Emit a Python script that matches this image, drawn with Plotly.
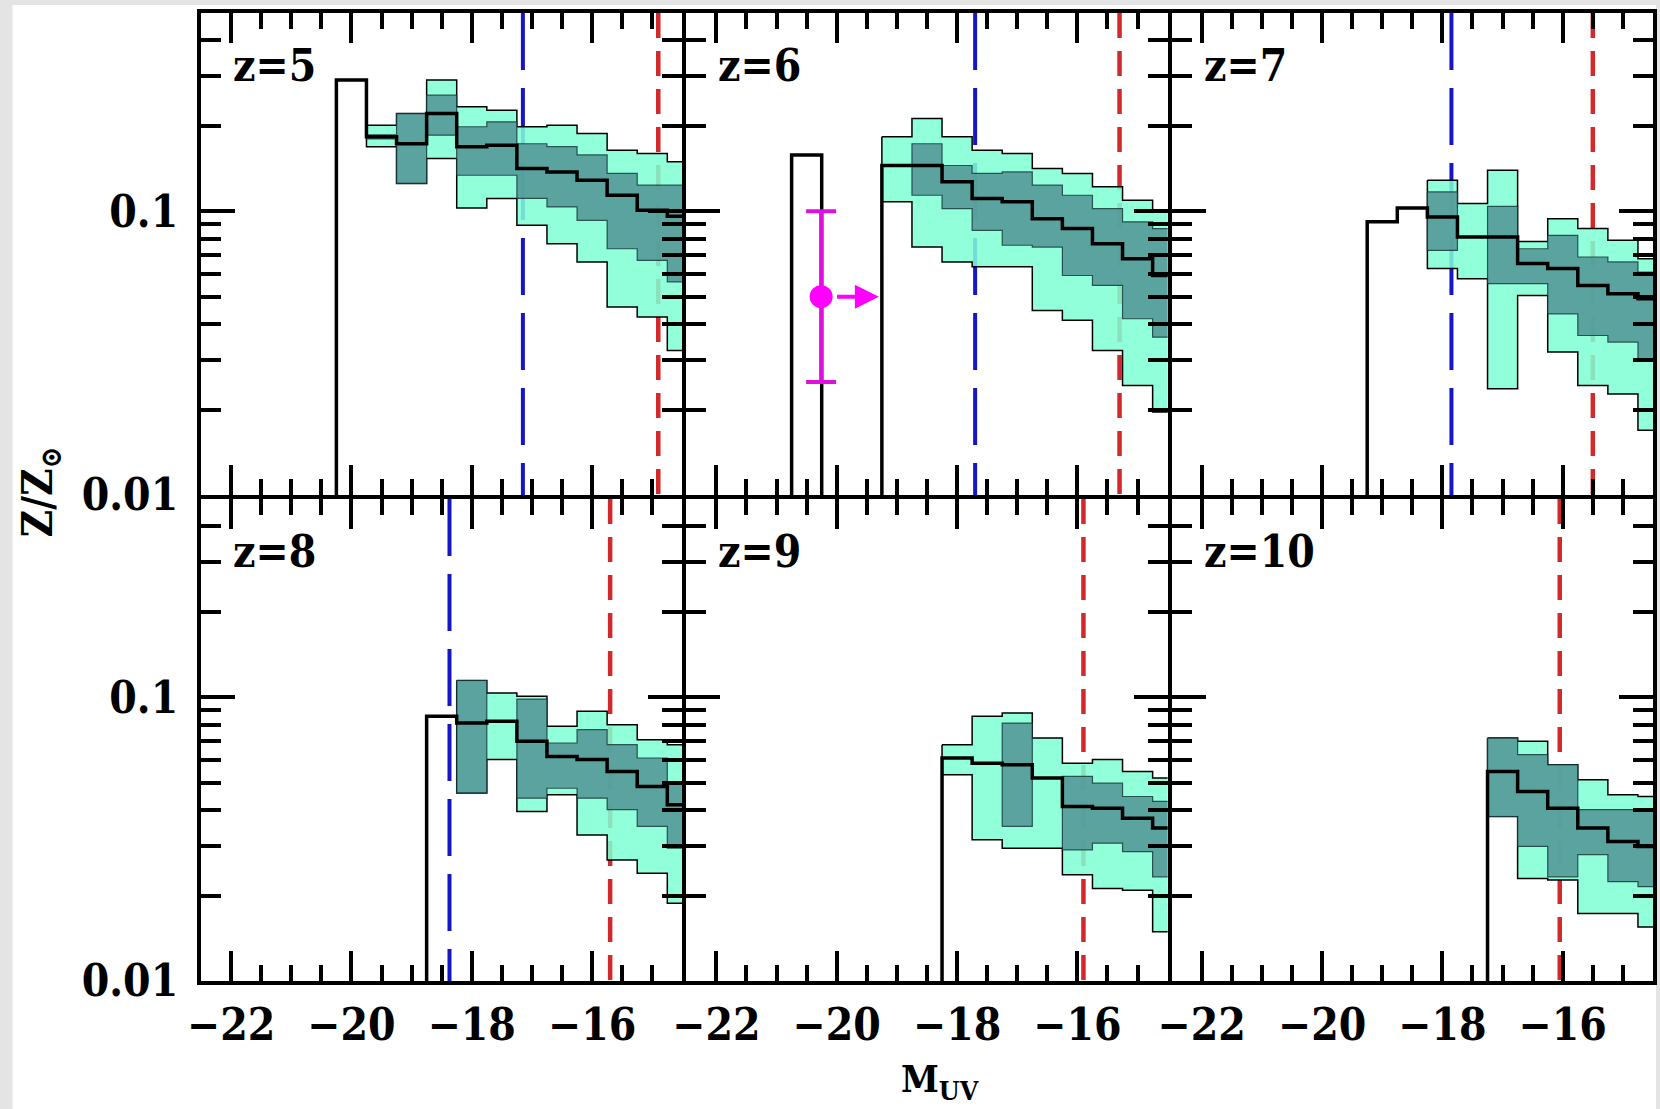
import math
import plotly.graph_objects as go

# ---------------------------------------------------------------------------
# Metallicity vs. UV magnitude, six redshift panels.
# Bins are 0.5 mag wide; values are Z/Zsun.
# ---------------------------------------------------------------------------
BIN_W = 0.5
Y_MIN, Y_MAX = 0.01, 0.5
Y_FLOOR = Y_MIN / 2          # empty bins drop below the visible range
X_RANGE = [-22.5, -14.5]

redshift_labels = ["z=5", "z=6", "z=7", "z=8", "z=9", "z=10"]

# median relation (None = empty bin)
z5_line_m = [-20.0, -19.5, -19.0, -18.5, -18.0, -17.5, -17.0, -16.5, -16.0, -15.5, -15.0, -14.5]
z5_median = [0.29, 0.183, 0.173, 0.221, 0.169, 0.171, 0.1416, 0.1377, 0.1287, 0.1139, 0.1008, 0.096]
z6_line_m = [-20.5, -20.0, -19.5, -19.0, -18.5, -18.0, -17.5, -17.0, -16.5, -16.0, -15.5, -15.0, -14.5]
z6_median = [0.158, None, None, 0.145, 0.145, 0.127, 0.111, 0.108, 0.0942, 0.0869, 0.0769, 0.068, 0.0594]
z7_line_m = [-19.0, -18.5, -18.0, -17.5, -17.0, -16.5, -16.0, -15.5, -15.0, -14.5]
z7_median = [0.0918, 0.1028, 0.0955, 0.0812, 0.0812, 0.0654, 0.0628, 0.0548, 0.0512, 0.0492]
z8_line_m = [-18.5, -18.0, -17.5, -17.0, -16.5, -16.0, -15.5, -15.0, -14.5]
z8_median = [0.0857, 0.0811, 0.0823, 0.07, 0.0619, 0.0603, 0.0548, 0.0485, 0.0418]
z9_line_m = [-18.0, -17.5, -17.0, -16.5, -16.0, -15.5, -15.0, -14.5]
z9_median = [0.0611, 0.0586, 0.0579, 0.0519, 0.0412, 0.0406, 0.0375, 0.0346]
z10_line_m = [-17.0, -16.5, -16.0, -15.5, -15.0, -14.5]
z10_median = [0.0548, 0.0466, 0.0406, 0.0346, 0.031, 0.0298]

# scatter bands: outer (p10-p90) and inner (p25-p75)
z5_band_m = [-19.5, -19.0, -18.5, -18.0, -17.5, -17.0, -16.5, -16.0, -15.5, -15.0, -14.5]
z5_p90 = [0.201, 0.221, 0.29, 0.2336, 0.2273, 0.1986, 0.201, 0.188, 0.164, 0.16, 0.1494]
z5_p75 = [0.186, 0.221, 0.2567, 0.1986, 0.2068, 0.173, 0.169, 0.158, 0.136, 0.1236, 0.1236]
z5_p25 = [0.18, 0.1254, 0.1855, 0.134, 0.134, 0.111, 0.1036, 0.0929, 0.0738, 0.0671, 0.0564]
z5_p10 = [0.169, 0.1254, 0.1535, 0.1028, 0.111, 0.0893, 0.0769, 0.0663, 0.046, 0.0424, 0.0323]

z6_band_m = [-19.0, -18.5, -18.0, -17.5, -17.0, -16.5, -16.0, -15.5, -15.0, -14.5]
z6_p90 = [0.183, 0.2124, 0.183, 0.164, 0.16, 0.1416, 0.136, 0.122, 0.1094, 0.0995]
z6_p75 = [0.145, 0.173, 0.145, 0.136, 0.1377, 0.1236, 0.1139, 0.1022, 0.0918, 0.0869]
z6_p25 = [0.145, 0.1139, 0.1022, 0.0857, 0.0759, 0.0748, 0.0594, 0.0548, 0.0418, 0.036]
z6_p10 = [0.108, 0.0748, 0.0663, 0.0637, 0.0637, 0.0447, 0.0413, 0.0323, 0.0243, 0.0196]

z7_band_m = [-18.0, -17.5, -17.0, -16.5, -16.0, -15.5, -15.0, -14.5]
z7_p90 = [0.1287, 0.1065, 0.1395, 0.0783, 0.0942, 0.0869, 0.079, 0.068]
z7_p75 = [0.117, 0.0812, 0.104, 0.0738, 0.0823, 0.069, 0.0663, 0.0611]
z7_p25 = [0.0728, 0.0812, 0.0556, 0.0556, 0.0435, 0.0365, 0.0346, 0.0298]
z7_p10 = [0.0628, 0.0579, 0.0237, 0.0505, 0.0319, 0.0243, 0.0227, 0.0169]

z8_band_m = [-18.0, -17.5, -17.0, -16.5, -16.0, -15.5, -15.0, -14.5]
z8_p90 = [0.1146, 0.1035, 0.1008, 0.079, 0.0893, 0.0801, 0.0709, 0.0681]
z8_p75 = [0.1146, 0.0823, 0.0986, 0.069, 0.0769, 0.0681, 0.0611, 0.0505]
z8_p25 = [0.046, 0.0823, 0.0441, 0.0478, 0.0441, 0.0402, 0.0351, 0.0294]
z8_p10 = [0.046, 0.0603, 0.0396, 0.0453, 0.0327, 0.0267, 0.024, 0.0188]

z9_band_m = [-18.0, -17.5, -17.0, -16.5, -16.0, -15.5, -15.0, -14.5]
z9_p90 = [0.0681, 0.0857, 0.088, 0.0718, 0.0586, 0.0603, 0.0548, 0.0519]
z9_p75 = [0.0611, 0.0586, 0.0811, 0.0519, 0.0526, 0.0498, 0.0447, 0.043]
z9_p25 = [0.0611, 0.0586, 0.0351, 0.0519, 0.029, 0.0306, 0.0286, 0.0233]
z9_p10 = [0.0533, 0.0315, 0.0294, 0.0294, 0.0237, 0.0212, 0.0209, 0.0149]

z10_band_m = [-17.0, -16.5, -16.0, -15.5, -15.0, -14.5]
z10_p90 = [0.0718, 0.07, 0.0579, 0.0512, 0.0453, 0.0447]
z10_p75 = [0.0718, 0.0628, 0.0579, 0.0402, 0.0402, 0.0396]
z10_p25 = [0.038, 0.0298, 0.0233, 0.0279, 0.0224, 0.0215]
z10_p10 = [0.038, 0.023, 0.0227, 0.0173, 0.0173, 0.0155]

# magnitude limits: blue long-dash and red short-dash
blue_limit_m = [-17.15, -17.7, -17.85, -18.37, None, None]
red_limit_m = [-14.9, -15.3, -15.5, -15.7, -15.9, -16.05]

# observed galaxy at z=6 (lower limit in M_UV)
obs_m = [-20.26]
obs_z = [0.05]
obs_err_plus = [0.05]
obs_err_minus = [0.025]
obs_arrow_tip_m = -19.3
obs_arrow_tail_m = -20.02

line_m = [z5_line_m, z6_line_m, z7_line_m, z8_line_m, z9_line_m, z10_line_m]
medians = [z5_median, z6_median, z7_median, z8_median, z9_median, z10_median]
band_m = [z5_band_m, z6_band_m, z7_band_m, z8_band_m, z9_band_m, z10_band_m]
p90s = [z5_p90, z6_p90, z7_p90, z8_p90, z9_p90, z10_p90]
p75s = [z5_p75, z6_p75, z7_p75, z8_p75, z9_p75, z10_p75]
p25s = [z5_p25, z6_p25, z7_p25, z8_p25, z9_p25, z10_p25]
p10s = [z5_p10, z6_p10, z7_p10, z8_p10, z9_p10, z10_p10]

LIGHT = "rgba(127,255,212,0.86)"   # aquamarine
DARK = "rgba(82,150,150,0.88)"     # cadet blue
BLUE = "#1616c4"
RED = "#d22a2a"
MAGENTA = "#ff00ff"
FONT = "DejaVu Serif Condensed, DejaVu Serif, serif"


def step_path(centers, values, floor=Y_FLOOR):
    hw = BIN_W / 2
    xs = [centers[0] - hw]
    ys = [floor]
    for c, v in zip(centers, values):
        y = floor if v is None else v
        xs += [c - hw, c + hw]
        ys += [y, y]
    return xs, ys


def band_polygon(centers, hi, lo):
    hw = BIN_W / 2
    xs, ys = [], []
    for c, h in zip(centers, hi):
        xs += [c - hw, c + hw]
        ys += [h, h]
    for c, l in zip(reversed(centers), reversed(lo)):
        xs += [c + hw, c - hw]
        ys += [l, l]
    xs.append(xs[0])
    ys.append(ys[0])
    return xs, ys


fig = go.Figure()

for i in range(6):
    xa = "x" if i == 0 else f"x{i + 1}"
    ya = "y" if i == 0 else f"y{i + 1}"

    # magnitude limits underneath the bands
    if blue_limit_m[i] is not None:
        fig.add_trace(go.Scatter(x=[blue_limit_m[i]] * 2, y=[Y_MAX, Y_MIN], mode="lines",
                                 line=dict(color=BLUE, width=4, dash="57px,18px"),
                                 xaxis=xa, yaxis=ya, showlegend=False, hoverinfo="skip"))
    fig.add_trace(go.Scatter(x=[red_limit_m[i]] * 2, y=[Y_MAX, Y_MIN], mode="lines",
                             line=dict(color=RED, width=4.5, dash="25px,13px"),
                             xaxis=xa, yaxis=ya, showlegend=False, hoverinfo="skip"))

    bx, by = band_polygon(band_m[i], p90s[i], p10s[i])
    fig.add_trace(go.Scatter(x=bx, y=by, mode="lines", fill="toself", fillcolor=LIGHT,
                             line=dict(color="black", width=1.5),
                             xaxis=xa, yaxis=ya, showlegend=False, hoverinfo="skip"))
    dx, dy = band_polygon(band_m[i], p75s[i], p25s[i])
    fig.add_trace(go.Scatter(x=dx, y=dy, mode="lines", fill="toself", fillcolor=DARK,
                             line=dict(color="rgba(20,50,50,0.8)", width=1.2),
                             xaxis=xa, yaxis=ya, showlegend=False, hoverinfo="skip"))

    sx, sy = step_path(line_m[i], medians[i])
    fig.add_trace(go.Scatter(x=sx, y=sy, mode="lines", line=dict(color="black", width=3.5),
                             xaxis=xa, yaxis=ya, showlegend=False, hoverinfo="skip"))

# observed point with error bar and limit arrow (z=6 panel)
fig.add_trace(go.Scatter(
    x=obs_m, y=obs_z, mode="markers", xaxis="x2", yaxis="y2", showlegend=False,
    marker=dict(color=MAGENTA, size=23),
    error_y=dict(type="data", symmetric=False, array=obs_err_plus, arrayminus=obs_err_minus,
                 color="#dd10dd", thickness=4, width=15),
))
fig.add_annotation(x=obs_arrow_tip_m, y=math.log10(obs_z[0]), ax=obs_arrow_tail_m,
                   ay=math.log10(obs_z[0]), xref="x2", yref="y2", axref="x2", ayref="y2",
                   text="", showarrow=True, arrowhead=2, arrowsize=1.2, arrowwidth=4,
                   arrowcolor=MAGENTA)

# page geometry
W, H = 1660, 1109
ML, MR, MT, MB = 201, 3, 13, 128
PW, PH = W - ML - MR, H - MT - MB
LW = 4                              # frame line width; panels are separated by one line width
col_w = (PW - 2 * LW) / 3
row_h = (PH - LW) / 2

tick_font = dict(family=FONT, size=44, color="black", weight="bold")
minor_y = [0.02, 0.03, 0.04, 0.05, 0.06, 0.07, 0.08, 0.09, 0.2, 0.3, 0.4]

layout = dict(
    width=W, height=H,
    margin=dict(l=ML, r=MR, t=MT, b=MB),
    paper_bgcolor="#e4e4e4", plot_bgcolor="white",
    showlegend=False,
)

for i in range(6):
    row, col = divmod(i, 3)
    sfx = "" if i == 0 else str(i + 1)
    x0 = col * (col_w + LW)
    y0 = (row_h + LW) if row == 0 else 0.0
    layout["xaxis" + sfx] = dict(
        domain=[x0 / PW, (x0 + col_w) / PW], anchor="y" + sfx, range=X_RANGE,
        tickmode="linear", tick0=-22, dtick=2,
        ticks="inside", ticklen=30, tickwidth=4, tickcolor="black",
        minor=dict(dtick=0.5, tick0=-22, ticks="inside", ticklen=16, tickwidth=3.5,
                   tickcolor="black", showgrid=False),
        showline=True, linewidth=LW, linecolor="black", mirror="allticks",
        showgrid=False, zeroline=False, showticklabels=(row == 1),
        tickfont=tick_font, ticklabelstandoff=2,
    )
    layout["yaxis" + sfx] = dict(
        domain=[y0 / PH, (y0 + row_h) / PH], anchor="x" + sfx,
        type="log", range=[math.log10(Y_MIN), math.log10(Y_MAX)],
        tickmode="array", tickvals=[0.01, 0.1], ticktext=["0.01", "0.1"],
        ticks="inside", ticklen=34, tickwidth=4, tickcolor="black",
        minor=dict(tickmode="array", tickvals=minor_y, ticks="inside", ticklen=20,
                   tickwidth=3.5, tickcolor="black", showgrid=False),
        showline=True, linewidth=LW, linecolor="black", mirror="allticks",
        showgrid=False, zeroline=False, showticklabels=(col == 0),
        tickfont=tick_font, ticklabelstandoff=10,
    )

fig.update_layout(**layout)

# white page inside the grey edge strip
fig.add_shape(type="rect", xref="paper", yref="paper", layer="below",
              x0=(12 - ML) / PW, x1=(W - ML) / PW,
              y0=(H - MB - H) / PH, y1=(H - MB - 5) / PH,
              fillcolor="white", line=dict(width=0))

# panel labels
for i, lab in enumerate(redshift_labels):
    sfx = "" if i == 0 else str(i + 1)
    fig.add_annotation(text=lab, xref=f"x{sfx} domain", yref=f"y{sfx} domain",
                       x=0.062, y=0.892, xanchor="left", yanchor="middle", showarrow=False,
                       font=dict(family=FONT, size=44, color="black", weight="bold"))

# axis titles
fig.add_annotation(text="Z/Z<sub>⊙</sub>", xref="paper", yref="paper",
                   x=(40 - ML) / PW, y=(H - MB - 492) / PH, textangle=-90,
                   xanchor="center", yanchor="middle", showarrow=False,
                   font=dict(family=FONT, size=42, color="black", weight="bold"))
fig.add_annotation(text="M<sub>UV</sub>", xref="paper", yref="paper",
                   x=(942 - ML) / PW, y=(H - MB - 1108) / PH,
                   xanchor="center", yanchor="bottom", showarrow=False,
                   font=dict(family=FONT, size=38, color="black", weight="bold"))

fig.write_html("out.html")
